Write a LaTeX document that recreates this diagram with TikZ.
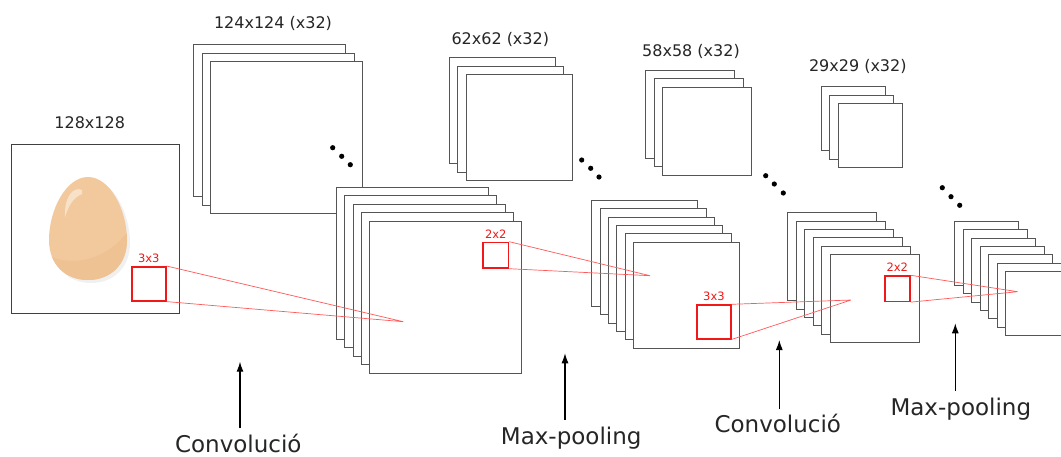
\documentclass[tikz,border=0pt]{standalone}
\usepackage{fontspec}
\setmainfont{DejaVu Sans}
\usetikzlibrary{arrows.meta}
\definecolor{eggbody}{HTML}{F2C99C}
\definecolor{eggshade}{HTML}{EEC293}
\definecolor{mapline}{HTML}{555555}
\definecolor{kred}{HTML}{F01818}
\definecolor{rayred}{HTML}{FF5A5A}
\begin{document}
\begin{tikzpicture}[x=1pt,y=-1pt,
  fmap/.style={draw=mapline,line width=1pt,fill=white,inner sep=0pt,anchor=north west},
  kbox/.style={draw=kred,line width=1.6pt,inner sep=0pt,anchor=north west},
  klabel/.style={text=kred,font=\fontsize{11.5}{13}\selectfont,inner sep=3.5pt,anchor=south},
  ray/.style={draw=rayred,line width=0.7pt},
  dimlabel/.style={font=\fontsize{16}{19}\selectfont,text=black!85},
  oplabel/.style={font=\fontsize{23}{27}\selectfont,text=black!85,anchor=base,inner sep=0pt,text height=24pt},
  arr/.style={-{Latex[length=10pt,width=7pt]},line width=1.1pt},
  dot/.style={circle,fill=black,inner sep=0pt,minimum size=5.2pt}]

\clip (0,0) rectangle (1061,456);
\fill[white] (0,0) rectangle (1061,456);

% input picture with the egg
\node[draw=black!75,line width=1pt,fill=white,inner sep=0pt,anchor=north west,
      minimum width=168pt,minimum height=169pt] (img) at (11,144) {};
\fill[black!6] (91,180) .. controls (113,180) and (130,213) .. (130,243)
  .. controls (130,268) and (113,283) .. (91,283)
  .. controls (69,283) and (52,268) .. (52,243)
  .. controls (52,213) and (69,180) .. (91,180);
\begin{scope}
  \path[clip] (88,177) .. controls (110,177) and (127,210) .. (127,240)
    .. controls (127,265) and (110,280) .. (88,280)
    .. controls (66,280) and (49,265) .. (49,240)
    .. controls (49,210) and (66,177) .. (88,177);
  \fill[eggbody] (45,170) rectangle (132,285);
  \fill[eggshade] (45,254) .. controls (70,268) and (108,262) .. (132,226)
    -- (132,285) -- (45,285) -- cycle;
\end{scope}
\fill[white,opacity=0.45] (82,190) .. controls (74,186) and (64,196) .. (65,217)
  .. controls (68,208) and (72,198) .. (82,194) -- cycle;

% 124x124 maps
\foreach \i in {0,...,2}
  \node[fmap,minimum width=152pt,minimum height=152pt] (a\i) at ({193.3+8.5*\i},{44.3+8.5*\i}) {};
% convolution output maps
\foreach \i in {0,...,4}
  \node[fmap,minimum width=152pt,minimum height=152pt] (b\i) at ({335.7+8.4*\i},{186.7+8.5*\i}) {};
% 62x62 maps
\foreach \i in {0,...,2}
  \node[fmap,minimum width=106pt,minimum height=106pt] (c\i) at ({449+8.35*\i},{57+8.5*\i}) {};
\foreach \i in {0,...,5}
  \node[fmap,minimum width=106pt,minimum height=106pt] (e\i) at ({591.3+8.35*\i},{200+8.3*\i}) {};
% 58x58 maps
\foreach \i in {0,...,2}
  \node[fmap,minimum width=89pt,minimum height=88pt] (f\i) at ({645+8.5*\i},{70+8.35*\i}) {};
\foreach \i in {0,...,5}
  \node[fmap,minimum width=89pt,minimum height=88pt] (g\i) at ({787.3+8.5*\i},{212.3+8.35*\i}) {};
% 29x29 maps
\foreach \i in {0,...,2}
  \node[fmap,minimum width=64pt,minimum height=64pt] (h\i) at ({820.7+8.5*\i},{86.3+8.5*\i}) {};
\foreach \i in {0,...,6}
  \node[fmap,minimum width=64pt,minimum height=64pt] (k\i) at ({954.3+8.5*\i},{220.7+8.4*\i}) {};

% ellipsis dots
\foreach \x/\y [count=\n] in {332.7/147.7,341.7/156.3,350.3/164.7,
    581.7/160,590.7/168.3,599/177,
    765.7/175.7,774.3/184,783.3/193,
    942.3/187.7,951/196.7,959.7/205.3}
  \node[dot] (dot\n) at (\x,\y) {};

% size labels
\node[dimlabel] (s0) at (89.7,123) {128x128};
\node[dimlabel] (s1) at (273,23) {124x124 (x32)};
\node[dimlabel] (s2) at (500.3,39.5) {62x62 (x32)};
\node[dimlabel] (s3) at (691,51.5) {58x58 (x32)};
\node[dimlabel] (s4) at (857.8,66) {29x29 (x32)};

% kernel windows
\node[kbox,minimum size=34pt] (kA) at (131,266) {};
\node[kbox,minimum size=25.4pt] (kB) at (482.3,241.7) {};
\node[kbox,minimum size=33.6pt] (kC) at (696.3,304.3) {};
\node[kbox,minimum size=25.2pt] (kD) at (883.9,275.3) {};
\node[klabel] (kAl) at (kA.north) {3x3};
\node[klabel] (kBl) at (kB.north) {2x2};
\node[klabel] (kCl) at (kC.north) {3x3};
\node[klabel] (kDl) at (kD.north) {2x2};

% receptive-field rays
\coordinate (pA) at (403.3,321.7);
\coordinate (pB) at (650,275.7);
\coordinate (pC) at (851,300);
\coordinate (pD) at (1017.7,291.7);
\draw[ray] (kA.north east) -- (pA) (kA.south east) -- (pA);
\draw[ray] (kB.north east) -- (pB) (kB.south east) -- (pB);
\draw[ray] (kC.north east) -- (pC) (kC.south east) -- (pC);
\draw[ray] (kD.north east) -- (pD) (kD.south east) -- (pD);

% operation labels and arrows
\coordinate (t1) at (240,361.7);
\coordinate (t2) at (565,353.3);
\coordinate (t3) at (779.3,340);
\coordinate (t4) at (955.3,323.3);
\node[oplabel] (op1) at (238.3,452.3) {Convolució};
\node[oplabel] (op2) at (571.2,444) {Max-pooling};
\node[oplabel] (op3) at (777.8,432.7) {Convolució};
\node[oplabel] (op4) at (960.8,415) {Max-pooling};
\draw[arr] (op1.north -| t1) -- (t1);
\draw[arr] (op2.north -| t2) -- (t2);
\draw[arr] (op3.north -| t3) -- (t3);
\draw[arr] (op4.north -| t4) -- (t4);
\end{tikzpicture}
\end{document}
